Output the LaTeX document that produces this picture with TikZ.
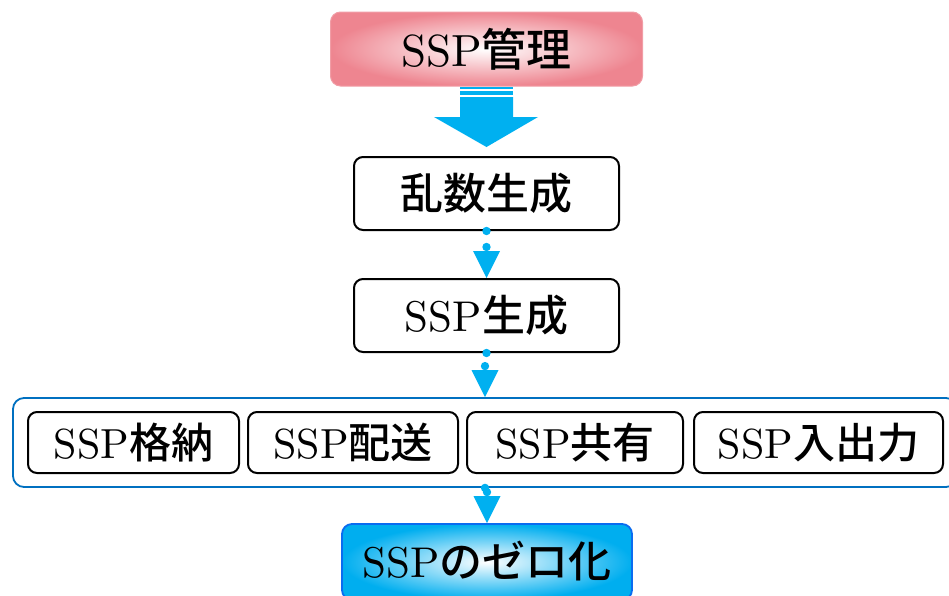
\documentclass[tikz,border=0pt]{standalone}
\usepackage{fontspec}
\setmainfont{lmroman10-regular.otf}
\newfontfamily\jp{Noto Sans CJK JP}[UprightFont=* Medium]
\usetikzlibrary{positioning}
\definecolor{cy}{HTML}{00B0F0}
\definecolor{pinkc}{HTML}{EE8590}
\definecolor{frameblue}{HTML}{0070C0}
\definecolor{zeroblue}{HTML}{00AEEF}
\definecolor{zeroedge}{HTML}{0A6CF0}
\tikzset{
  stepbox/.style={draw=black, line width=2pt, rounded corners=9pt, fill=white,
    inner sep=0pt, font=\fontsize{43}{48}\selectfont},
  subbox/.style={stepbox, minimum height=61pt, font=\fontsize{42}{46}\selectfont},
  dotc/.style={fill=cy},
}
\begin{document}
\begin{tikzpicture}[x=1pt,y=-1pt]
\useasboundingbox (0,0) rectangle (949,595);
% top box
\node[rounded corners=10pt, draw=pinkc!80, line width=1pt, inner color=white, outer color=pinkc,
  minimum width=312pt, minimum height=74pt, inner sep=0pt, font=\fontsize{45}{50}\selectfont]
  (mgmt) at (486.5,49) {SSP{\jp 管理}};
% big arrow
\fill[cy] (460,87) rectangle (513,89);
\fill[cy] (460,91) rectangle (513,95);
\fill[cy] (460,97) -- (513,97) -- (513,117) -- (538,117) -- (486.5,147) -- (434,117) -- (460,117) -- cycle;
% steps
\node[stepbox, minimum width=265pt, minimum height=73pt] (rand) at (486.5,193.5) {\jp 乱数生成};
\node[stepbox, minimum width=265pt, minimum height=73pt] (gen) at (486.5,315.5) {SSP{\jp 生成}};
% container
\node[draw=frameblue, line width=1.8pt, rounded corners=11pt, minimum width=944pt, minimum height=89pt, inner sep=0pt]
  (ops) at (485,442.5) {};
\node[subbox, minimum width=211pt] (store) at (133.5,442.5) {SSP{\jp 格納}};
\node[subbox, minimum width=210pt] (deliv) at (353,442.5) {SSP{\jp 配送}};
\node[subbox, minimum width=216pt] (share) at (575,442.5) {SSP{\jp 共有}};
\node[subbox, minimum width=249pt] (io) at (818.5,442.5) {SSP{\jp 入出力}};
% zeroization
\node[draw=zeroedge, line width=1.8pt, rounded corners=10pt, inner color=white, outer color=zeroblue,
  minimum width=290pt, minimum height=76pt, inner sep=0pt, font=\fontsize{43}{48}\selectfont,
  text depth=0pt, text height=30pt]
  (zero) at (487,562) {SSP{\jp のゼロ化}};
% connectors
\foreach \a/\b in {rand/gen, gen/ops, ops/zero}{
  \fill[dotc] (\a.south) circle (4.2pt);
  \fill[dotc] ([yshift=31pt]\b.north) circle (4.2pt);
  \fill[cy] ([xshift=-13.5pt,yshift=27pt]\b.north) -- ([xshift=13.5pt,yshift=27pt]\b.north) -- (\b.north) -- cycle;
}
\end{tikzpicture}
\end{document}
